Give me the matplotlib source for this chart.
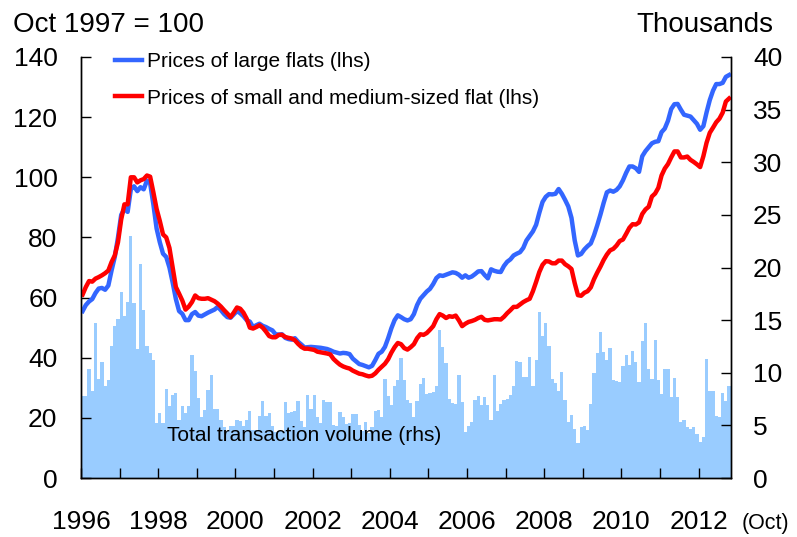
import matplotlib
matplotlib.use("Agg")
import matplotlib.pyplot as plt
import numpy as np

plt.rcParams['font.family'] = ['Liberation Sans', 'DejaVu Sans']

# Monthly data, Jan 1996 - Oct 2012
start_year = 1996

# Prices of large flats (lhs, Oct 1997 = 100)
large_flats = [
    55.5, 57.5, 58.7, 59.5, 61.5, 63, 63.2, 62.6, 64, 69, 73.5, 80,
    87.5, 89.5, 88.5, 96, 97, 95.4, 96.7, 96, 98.9, 98, 91, 83,
    78.4, 74.6, 73.5, 70, 65, 59.5, 55.5, 54.6, 52.5, 52.5,
    54.5, 55.2, 54, 53.8, 54.4, 55, 55.5, 56, 56.9, 55.8, 54.5, 53.5, 53.3, 54.4,
    55.5, 54.8, 53.8, 52.5,
    52, 50.2, 50.8, 51.3, 50.6, 50.2, 49.6, 49.1, 47.8, 47.7,
    47.8, 46.6, 46.2, 46, 46.5, 45.3, 44.4, 43.4, 43.5, 43.6,
    43.5, 43.4, 43.3, 43.1, 42.9, 42.5, 42, 41.7, 41.4, 41.6,
    41.5, 41.2, 39.7, 38.8, 37.9, 37.6, 37.2, 36.8, 37.3, 39.2,
    41.3, 42, 43.6, 46.5, 49.8, 52.5, 54.1, 53.5, 52.8, 52.4,
    52.8, 54.5, 57.5, 59.6, 60.8, 62, 62.9, 64.5, 66.5, 67.4,
    67.2, 67.6, 68, 68.4, 68.2, 67.6, 66.6, 67.4, 66.6, 67,
    67.8, 68.7, 68.8, 67.5, 66.4, 69.4, 68.9, 68.6, 68.5, 70.5,
    71.9, 72.7, 74,
    74.6, 75.1, 76.5, 79, 80.5, 82, 84.2, 88.2, 91.8, 93.5,
    94.4, 94.3, 94.5, 96.1, 94.5, 92.5, 90.3, 86.5, 79, 74,
    74.5, 76, 77.1, 78, 80.7, 84, 87.6, 91.5, 95, 95.6,
    95.2, 95.8, 97,
    99, 101.5, 103.6, 103.6, 103, 101.8, 107, 108.7, 110, 111.3,
    111.8, 112, 115, 116.2, 118.8, 122.7, 124.3, 124.4, 122.5, 120.8,
    120.5, 120.2, 119, 117.8, 115.8, 117, 121.6, 125.7, 128.8, 131,
    131, 131.4, 133.4, 134,
]

# Prices of small and medium-sized flats (lhs)
small_flats = [
    61, 63.5, 65.5, 65.3, 66.3, 66.8, 67.4, 68.1, 69, 71.8, 74, 78.4,
    86, 91, 91, 100, 100, 98.3, 99, 99.4, 100.6, 100.2, 95, 89.5,
    85.5, 81, 80, 76.5, 70, 63.5, 61.3, 59, 56, 57,
    58.5, 60.7, 59.8, 59.6, 59.6, 59.8, 59.3, 58.8, 58, 57, 55.8, 54.7, 53.5, 55,
    56.7, 56.3, 55, 53,
    50, 49.7, 50.2, 50.8, 50, 48.7, 47.2, 46.8, 46.8, 47.6,
    47.6, 46.9, 46.6, 46.4, 45.8, 44.6, 43.6, 43, 43, 42.8,
    42.6, 42, 41.8, 41.6, 41.4, 41.1, 39.6, 38.6, 37.7, 37.1,
    36.7, 36.4, 35.7, 35.2, 34.7, 34.5, 34.1, 33.8, 34, 34.8,
    36, 37, 38, 39.5, 41.7, 43.5, 44.9, 44.5, 43.2, 42.7,
    43.5, 44.5, 46.5, 47.8, 47.6, 48.2, 49.3, 50.5, 52.8, 54.5,
    54, 53.2, 53.8, 53.6, 54, 52.4, 50.5, 51.3, 51.9, 52.2,
    52.6, 53.2, 53.6, 52.6, 52.4, 52.6, 52.8, 52.8, 52.7, 53.6,
    54.8, 55.8, 56.9,
    56.9, 57.7, 58.5, 59.1, 59.6, 62.1, 65.2, 68.5, 70.9, 72.1,
    72, 71.4, 71.4, 72.3, 72.3, 71.1, 70.4, 69.5, 64.8, 60.8,
    60.6, 61.6, 62.1, 63.4, 66.1, 68.3, 70.3, 72.5, 74.3, 75.7,
    76.2, 77.3, 78.8,
    79.3, 81.2, 83.2, 84.4, 84.3, 85, 87.8, 89.3, 90.2, 93.6,
    94.6, 96.5, 100.6, 102.9, 104.4, 106.6, 108.6, 108.6, 106.6, 106.6,
    106.9, 105.8, 105.1, 104.3, 103.4, 107, 111.5, 114.8, 116.5, 118.3,
    119.5, 121.5, 125.2, 126.2,
]

# Total transaction volume (rhs, thousands)
volume = [
    7.8, 7.8, 10.4, 8.3, 14.7, 9.4, 11.0, 8.7, 9.3, 12.5, 14.4, 15.1,
    17.7, 15.4, 16.7, 23.0, 16.6, 12.3, 20.3, 16.0, 12.5, 11.9, 11.2, 5.2,
    6.2, 5.2, 8.5, 6.8, 7.9, 8.1, 5.5, 6.8, 6.2, 6.8,
    11.7, 10.2, 7.6, 5.75, 6.5, 8.4, 9.8, 6.6, 6.6, 5.5, 4.8, 4.5, 4.9, 4.9,
    5.5, 5.4, 4.9, 5.5, 6.4, 4.6, 4.6, 5.9, 7.3, 5.9, 6.2, 4.9, 4.4, 4.5,
    4.5, 7.2, 6.2, 6.3, 6.4, 7.3,
    5.4, 4.8, 7.9, 6.6, 7.9, 5.8, 5.2, 7.4, 7.2, 7.2, 5.0, 4.9,
    6.3, 5.8, 5.1, 5.2, 6.1, 6.1, 5.0, 4.5, 5.3, 4.3, 4.8, 6.4,
    6.5, 5.8, 9.4, 7.8, 6.9, 8.75, 9.35, 11.4, 9.3, 7.4, 7.1, 5.75,
    7.3, 8.9, 9.5, 8.0, 8.1, 8.2, 8.7, 14.1, 12.4, 10.9, 7.55, 7.1,
    7.0, 9.8, 7.2, 4.4, 4.9, 5.3, 7.4, 7.8, 6.9, 7.7, 6.9, 5.5,
    9.8, 6.35, 7.0, 7.4, 7.5, 7.9, 8.75, 11.1,
    11.0, 9.6, 9.6, 11.5, 8.7, 11.2, 15.8, 13.5, 14.7, 12.5, 9.45, 9.0,
    8.25, 10.1, 7.4, 5.3, 6.0, 4.7, 3.3, 4.8, 4.9, 4.55, 7.0, 10.0,
    11.9, 13.9, 12.0, 11.2, 12.35, 9.3, 9.2, 9.1, 10.6, 11.7, 10.7, 12.1,
    11.0, 9.1, 13.0, 14.7, 10.4, 9.45, 13.1, 9.3, 8.0, 10.4, 10.4, 7.7,
    9.5, 7.7, 5.3, 5.5, 4.8, 4.7, 4.8, 4.2, 3.4, 3.85, 11.3, 8.3,
    8.3, 5.9, 5.75, 8.1, 7.3, 8.7,
]

year_ticks = list(range(1996, 2013))
year_labels = [str(y) if y % 2 == 0 else '' for y in year_ticks]

n = len(volume)
x_start = start_year + np.arange(n) / 12.0

fig = plt.figure(figsize=(7.97, 5.37), dpi=100)
ax = fig.add_axes([81 / 797, 1 - 478 / 537, 649.7 / 797, 421 / 537])

# bars on the base axes (drawn underneath), their scale shown on the right
ax.bar(x_start, volume, width=1 / 12, align='edge', color='#99CCFF',
       linewidth=0, antialiased=False)
ax.set_ylim(0, 40)
ax.set_yticks(range(0, 41, 5))
ax.yaxis.tick_right()

# price lines on the twin axes, scale shown on the left
ax2 = ax.twinx()
ax2.plot(x_start + 1 / 24, large_flats, color='#3366FF', lw=3.2,
         label='Prices of large flats (lhs)', solid_joinstyle='round')
ax2.plot(x_start + 1 / 24, small_flats, color='#FF0000', lw=3.2,
         label='Prices of small and medium-sized flat (lhs)', solid_joinstyle='round')
ax2.set_ylim(0, 140)
ax2.set_yticks(range(0, 141, 20))
ax2.yaxis.tick_left()

ax.set_xlim(start_year, start_year + n / 12.0)
ax.set_xticks(year_ticks)
ax.set_xticklabels(year_labels)

for a in (ax, ax2):
    a.spines['top'].set_visible(False)
    for s in ('left', 'right', 'bottom'):
        a.spines[s].set_linewidth(1.0)
        a.spines[s].set_color('black')

ax.tick_params(axis='x', direction='in', length=7, width=1, pad=23, labelsize=19)
ax.tick_params(axis='y', direction='in', length=7, width=1, pad=16, labelsize=19,
               right=True, left=False, labelright=True, labelleft=False)
ax2.tick_params(axis='y', direction='in', length=7, width=1, pad=17, labelsize=19,
                left=True, right=False, labelleft=True, labelright=False)

ax.text(0.132, 0.102, 'Total transaction volume (rhs)', transform=ax.transAxes,
        fontsize=15, va='center', ha='left')

ax2.legend(loc='upper left', bbox_to_anchor=(115 / 797, 1 - 52 / 537),
           bbox_transform=fig.transFigure, frameon=False, fontsize=15,
           handlelength=1.3, handletextpad=0.25, labelspacing=0.85,
           borderpad=0, borderaxespad=0)

fig.text(12.7 / 797, 1 - 31.7 / 537, 'Oct 1997 = 100', fontsize=20, va='baseline', ha='left')
fig.text(773 / 797, 1 - 31.7 / 537, 'Thousands', fontsize=20, va='baseline', ha='right')
fig.text(741.7 / 797, 1 - 528.5 / 537, '(Oct)', fontsize=15.5, va='baseline', ha='left')

fig.savefig('out.png', dpi=100)
